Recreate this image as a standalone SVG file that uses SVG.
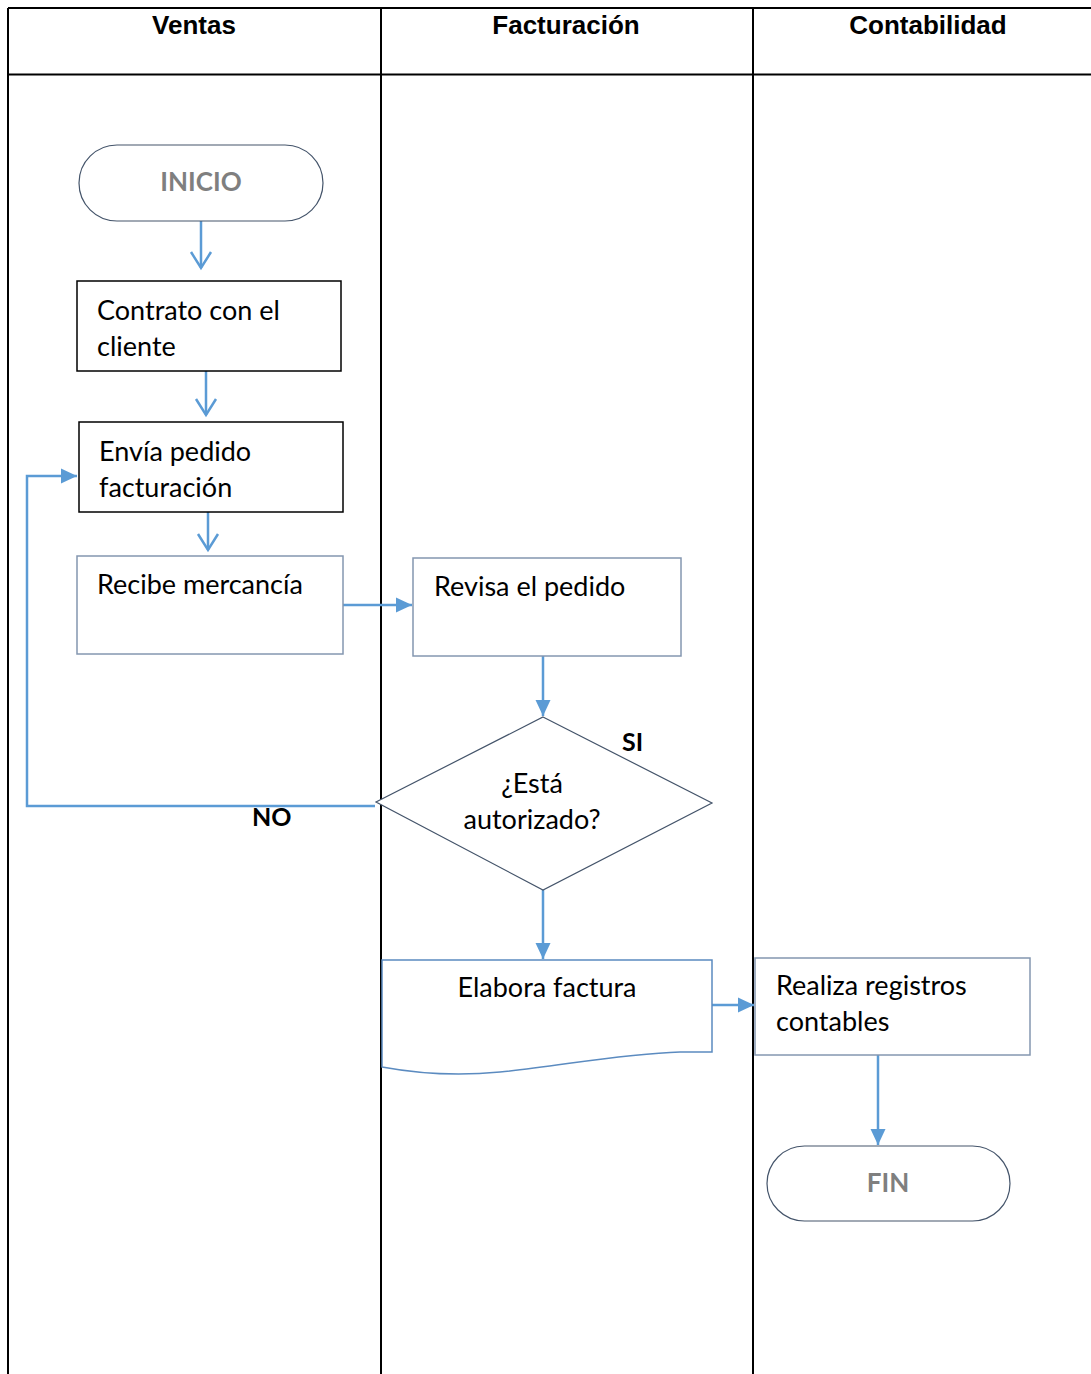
<svg xmlns="http://www.w3.org/2000/svg" width="1091" height="1374" viewBox="0 0 1091 1374">
<defs>
<style>
.lane{stroke:#000;stroke-width:2;fill:none}
.hdr{font-family:"Liberation Sans",Arial,sans-serif;font-weight:bold;font-size:26px;fill:#000;text-anchor:middle}
.txt{font-family:Lato,"Noto Sans",sans-serif;font-size:27px;fill:#000}
.term{fill:#fff;stroke:#44546a;stroke-width:1.2}
.termtxt{font-family:Lato,"Noto Sans",sans-serif;font-weight:bold;font-size:26px;fill:#7f7f7f;text-anchor:middle}
.boxk{fill:#fff;stroke:#000;stroke-width:1.5}
.boxs{fill:#fff;stroke:#8497b0;stroke-width:1.5}
.dia{fill:#fff;stroke:#44546a;stroke-width:1.2}
.conn{stroke:#5b9bd5;stroke-width:2.5;fill:none}
.lbl{font-family:Lato,"Noto Sans",sans-serif;font-weight:bold;font-size:25px;fill:#000}
</style>
<marker id="open" markerWidth="20" markerHeight="24" refX="17" refY="11" orient="auto" markerUnits="userSpaceOnUse" viewBox="0 0 20 22">
<path d="M1,1 L17,11 L1,21" fill="none" stroke="#5b9bd5" stroke-width="2.5"/>
</marker>
<marker id="fill" markerWidth="16" markerHeight="16" refX="16" refY="8" orient="auto" markerUnits="userSpaceOnUse" viewBox="0 0 16 16">
<path d="M0,0.5 L16,8 L0,15.5 Z" fill="#5b9bd5"/>
</marker>
</defs>
<rect width="1091" height="1374" fill="#fff"/>
<g id="table">
<line class="lane" x1="8" y1="8" x2="1091" y2="8"/>
<line class="lane" x1="8" y1="74.5" x2="1091" y2="74.5"/>
<line class="lane" x1="8" y1="8" x2="8" y2="1374"/>
<line class="lane" x1="381" y1="8" x2="381" y2="1374"/>
<line class="lane" x1="753" y1="8" x2="753" y2="1374"/>
<text class="hdr" x="194" y="34">Ventas</text>
<text class="hdr" x="566" y="34">Facturación</text>
<text class="hdr" x="928" y="34">Contabilidad</text>
</g>
<g id="connectors">
<line class="conn" x1="201" y1="221" x2="201" y2="268" marker-end="url(#open)"/>
<line class="conn" x1="206" y1="369" x2="206" y2="415" marker-end="url(#open)"/>
<line class="conn" x1="208" y1="512" x2="208" y2="550" marker-end="url(#open)"/>
<line class="conn" x1="341" y1="605" x2="412" y2="605" marker-end="url(#fill)"/>
<line class="conn" x1="543" y1="656" x2="543" y2="716" marker-end="url(#fill)"/>
<polyline class="conn" points="375,806 27,806 27,476 77,476" marker-end="url(#fill)"/>
<line class="conn" x1="543" y1="890" x2="543" y2="959" marker-end="url(#fill)"/>
<line class="conn" x1="712" y1="1005" x2="754" y2="1005" marker-end="url(#fill)"/>
<line class="conn" x1="878" y1="1055" x2="878" y2="1145" marker-end="url(#fill)"/>
</g>
<g id="inicio">
<rect class="term" x="79" y="145" width="244" height="76" rx="38" ry="38"/>
<text class="termtxt" x="201" y="191">INICIO</text>
</g>
<g id="contrato">
<rect class="boxk" x="77" y="281" width="264" height="90"/>
<text class="txt" x="97" y="320">Contrato con el</text>
<text class="txt" x="97" y="356">cliente</text>
</g>
<g id="envia">
<rect class="boxk" x="79" y="422" width="264" height="90"/>
<text class="txt" x="99" y="461">Envía pedido</text>
<text class="txt" x="99" y="497">facturación</text>
</g>
<g id="recibe">
<rect class="boxs" x="77" y="556" width="266" height="98"/>
<text class="txt" x="97" y="594">Recibe mercancía</text>
</g>
<g id="revisa">
<rect class="boxs" x="413" y="558" width="268" height="98"/>
<text class="txt" x="434" y="596">Revisa el pedido</text>
</g>
<g id="decision">
<polygon class="dia" points="543,717 712,803 543,890 376,802"/>
<text class="txt" x="532" y="793" text-anchor="middle">¿Está</text>
<text class="txt" x="532" y="829" text-anchor="middle">autorizado?</text>
<text class="lbl" x="622" y="751">SI</text>
<text class="lbl" x="252" y="826">NO</text>
</g>
<g id="elabora">
<path class="boxs" d="M382,960 H712 V1052 H680 C620,1054 560,1066 500,1072 C460,1076 420,1074 382,1067 Z" style="stroke:#5b8bc0"/>
<text class="txt" x="547" y="997" text-anchor="middle">Elabora factura</text>
</g>
<g id="realiza">
<rect class="boxs" x="755" y="958" width="275" height="97"/>
<text class="txt" x="776" y="995">Realiza registros</text>
<text class="txt" x="776" y="1031">contables</text>
</g>
<g id="fin">
<rect class="term" x="767" y="1146" width="243" height="75" rx="37.5" ry="37.5"/>
<text class="termtxt" x="888" y="1192">FIN</text>
</g>
</svg>
